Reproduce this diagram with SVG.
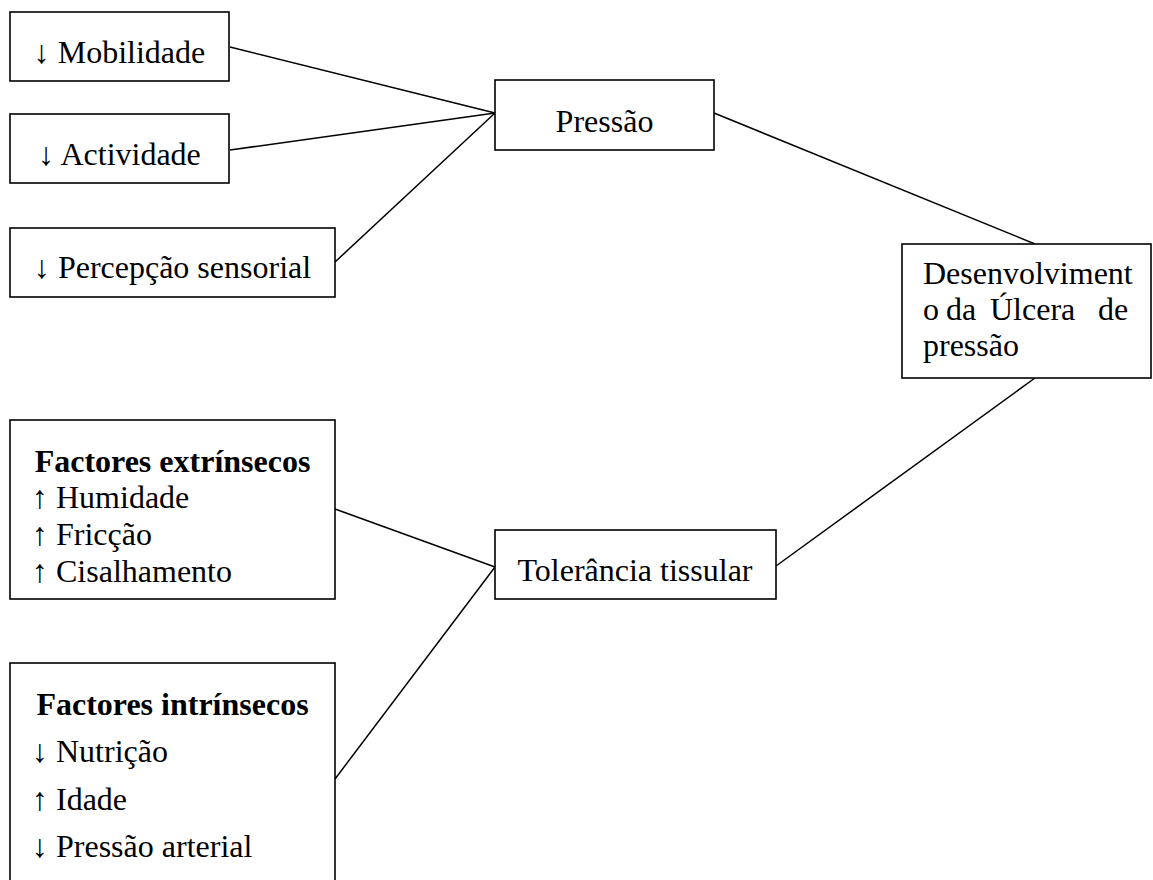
<svg xmlns="http://www.w3.org/2000/svg" width="1153" height="880" viewBox="0 0 1153 880">
<style>
.box{fill:#fff;stroke:#000;stroke-width:1.6}
.t{font-family:"Liberation Serif","Times New Roman",serif;font-size:32px;fill:#000}
.c{text-anchor:middle}
.b{font-weight:bold}
.ln{stroke:#000;stroke-width:1.5;fill:none}
</style>
<rect width="1153" height="880" fill="#fff"/>
<g id="connectors">
<line class="ln" x1="230" y1="47" x2="495" y2="113"/>
<line class="ln" x1="230" y1="150" x2="495" y2="113"/>
<line class="ln" x1="335" y1="262" x2="495" y2="113"/>
<line class="ln" x1="714" y1="113" x2="1035" y2="244"/>
<line class="ln" x1="335" y1="509" x2="495" y2="567"/>
<line class="ln" x1="335" y1="779" x2="495" y2="567"/>
<line class="ln" x1="776" y1="566" x2="1035" y2="378"/>
</g>
<g id="mobilidade">
<rect class="box" x="10" y="12" width="219" height="69"/>
<text class="t c" x="119.5" y="63">↓ Mobilidade</text>
</g>
<g id="actividade">
<rect class="box" x="10" y="114" width="219" height="69"/>
<text class="t c" x="119.5" y="165">↓ Actividade</text>
</g>
<g id="percepcao">
<rect class="box" x="10" y="228" width="325" height="69"/>
<text class="t c" x="172.5" y="278">↓ Percepção sensorial</text>
</g>
<g id="pressao">
<rect class="box" x="495" y="80" width="219" height="70"/>
<text class="t c" x="604.5" y="132">Pressão</text>
</g>
<g id="desenvolvimento">
<rect class="box" x="902" y="244" width="249" height="134"/>
<text class="t" x="923" y="283.5">Desenvolviment</text>
<text class="t" y="320"><tspan x="923">o</tspan><tspan x="946">da</tspan><tspan x="990">Úlcera</tspan><tspan x="1098">de</tspan></text>
<text class="t" x="923" y="356">pressão</text>
</g>
<g id="extrinsecos">
<rect class="box" x="10" y="420" width="325" height="179"/>
<text class="t b c" x="172.5" y="472">Factores extrínsecos</text>
<text class="t" x="32" y="508">↑ Humidade</text>
<text class="t" x="32" y="545">↑ Fricção</text>
<text class="t" x="32" y="582">↑ Cisalhamento</text>
</g>
<g id="tolerancia">
<rect class="box" x="495" y="530" width="281" height="69"/>
<text class="t c" x="635" y="581">Tolerância tissular</text>
</g>
<g id="intrinsecos">
<rect class="box" x="10" y="663" width="325" height="230"/>
<text class="t b c" x="172.5" y="715">Factores intrínsecos</text>
<text class="t" x="32" y="762">↓ Nutrição</text>
<text class="t" x="32" y="810">↑ Idade</text>
<text class="t" x="32" y="857">↓ Pressão arterial</text>
</g>
</svg>
